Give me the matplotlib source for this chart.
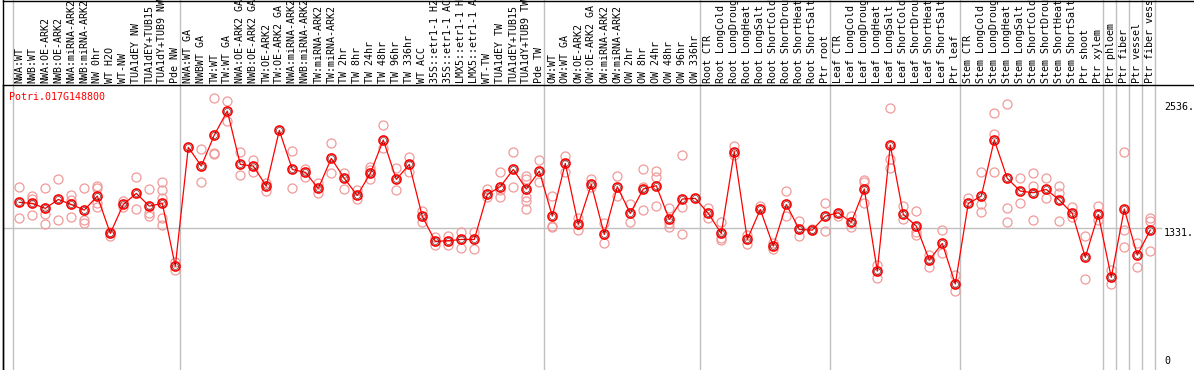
import matplotlib
matplotlib.use("Agg")
import matplotlib.pyplot as plt
from matplotlib.lines import Line2D
import matplotlib.transforms as mtransforms

# sample names, in plot order
samples = [
    "NWA:WT", "NWB:WT", "NWA:OE-ARK2", "NWB:OE-ARK2", "NWA:miRNA-ARK2", "NWB:miRNA-ARK2",
    "NW 0hr", "WT H2O", "WT-NW", "TUA1dEY NW", "TUA1dEY+TUB15", "TUA1dY+TUB9 NW", "Pde NW",
    "NWA:WT GA", "NWBWT GA", "TW:WT", "TW:WT GA", "NWA:OE-ARK2 GA", "NWB:OE-ARK2 GA",
    "TW:OE-ARK2", "TW:OE-ARK2 GA", "NWA:miRNA-ARK2 GA", "NWB:miRNA-ARK2 GA", "TW:miRNA-ARK2",
    "TW:miRNA-ARK2", "TW 2hr", "TW 8hr", "TW 24hr", "TW 48hr", "TW 96hr", "TW 336hr", "WT ACC",
    "35S::etr1-1 H2O", "35S::etr1-1 ACC", "LMX5::etr1-1 H2O", "LMX5::etr1-1 ACC", "WT-TW",
    "TUA1dEY TW", "TUA1dEY+TUB15", "TUA1dY+TUB9 TW", "Pde TW",
    "OW:WT", "OW:WT GA", "OW:OE-ARK2", "OW:OE-ARK2 GA", "OW:miRNA-ARK2", "OW:miRNA-ARK2",
    "OW 2hr", "OW 8hr", "OW 24hr", "OW 48hr", "OW 96hr", "OW 336hr",
    "Root CTR", "Root LongCold", "Root LongDrought", "Root LongHeat", "Root LongSalt",
    "Root ShortCold", "Root ShortDrought", "Root ShortHeat", "Root ShortSalt", "Ptr root",
    "Leaf CTR", "Leaf LongCold", "Leaf LongDrought", "Leaf LongHeat", "Leaf LongSalt",
    "Leaf ShortCold", "Leaf ShortDrought", "Leaf ShortHeat", "Leaf ShortSalt", "Ptr leaf",
    "Stem CTR", "Stem LongCold", "Stem LongDrought", "Stem LongHeat", "Stem LongSalt",
    "Stem ShortCold", "Stem ShortDrought", "Stem ShortHeat", "Stem ShortSalt",
    "Ptr shoot", "Ptr xylem", "Ptr phloem", "Ptr fiber", "Ptr vessel", "Ptr fiber vessel",
]

# mean expression per sample
means = [
    1574, 1564, 1516, 1602, 1554, 1500, 1634, 1276, 1554, 1660, 1538, 1564, 962,
    2102, 1922, 2220, 2450, 1938, 1922, 1730, 2265, 1890, 1862, 1708, 1996, 1804,
    1641, 1852, 2172, 1794, 1938, 1439, 1199, 1206, 1218, 1218, 1650, 1724, 1890,
    1702, 1874,
    1442, 1948, 1362, 1746, 1266, 1724, 1468, 1702, 1734, 1410, 1606, 1612,
    1468, 1276, 2060, 1218, 1506, 1154, 1554, 1314, 1308, 1442,
    1474, 1382, 1702, 914, 2124, 1458, 1346, 1020, 1180, 790,
    1564, 1634, 2172, 1804, 1682, 1666, 1698, 1596, 1468, 1046, 1458,
    854, 1510, 1068, 1308,
]

# individual replicates per sample
replicates = [
    [1724, 1420], [1634, 1602, 1449], [1708, 1462, 1363], [1798, 1404],
    [1644, 1596, 1430], [1708, 1404, 1378], [1730, 1708, 1564, 1532], [1292, 1250],
    [1586, 1532], [1814, 1506], [1698, 1474, 1442], [1769, 1692, 1612, 1420, 1356],
    [1004, 924],
    [], [2082, 1769], [2572, 2050, 2034], [2543, 2351], [2054, 1833], [1980, 1862],
    [1762, 1686], [], [2066, 1708], [1897, 1814], [1762, 1666], [2140, 1852],
    [1858, 1698], [1692, 1609], [1910, 1884, 1794], [2316, 2092], [1900, 1692],
    [2009, 1868], [1494, 1382], [1244, 1164], [1250, 1164], [1292, 1132],
    [1292, 1122], [1698, 1622], [1862, 1692, 1622], [2054, 1724],
    [1826, 1794, 1622, 1590, 1506], [1980, 1766],
    [1638, 1346, 1334], [2018, 1868], [1420, 1308], [1794, 1724], [1372, 1180],
    [1826, 1634], [1554, 1382], [1890, 1724, 1500], [1874, 1814, 1538],
    [1516, 1372, 1334], [2025, 1526, 1270], [],
    [1516, 1420], [1388, 1228, 1212], [2114, 2028], [1260, 1170], [1538],
    [1180, 1122], [1682, 1442], [1394, 1250], [1314], [1564, 1298],
    [1442], [1442, 1334], [1788, 1772, 1570], [972, 844], [2476, 1986, 1900],
    [1538, 1410], [1490, 1292, 1260], [1068, 956], [1308, 1084], [876, 722],
    [1612], [1865, 1558, 1481], [2428, 2226, 1865], [2518, 1516, 1382],
    [1804, 1564], [1858, 1730, 1404], [1804, 1612], [1730, 1666, 1394],
    [1532, 1436], [1250, 834], [1538, 1404],
    [924, 786], [2060, 1308, 1142], [1180, 956], [1426, 1398, 1106],
]

# last sample of each group (grey separators after them)
group_ends = [12, 40, 52, 62, 72, 83, 84, 85, 86, 87]
axis_ticks = [2536, 1331, 0]
axis_labels = ["2536.", "1331.", "0"]
gene = "Potri.017G148800"

W, H = 1194, 370
plt.rcParams["font.family"] = ["DejaVu Sans Mono"]
fs = 7.2

fig = plt.figure(figsize=(W / 100, H / 100), dpi=100)
ax_top = 85
ax = fig.add_axes([3 / W, 0, 1153 / W, (H - ax_top) / H])
ax.set_xlim(-1.254, 87.44)
ax.set_ylim(-34.5, 2700)
for s in ["top", "right", "bottom"]:
    ax.spines[s].set_visible(False)
ax.spines["left"].set_color("black")
ax.spines["left"].set_linewidth(1.0)
ax.set_xticks([])
ax.set_yticks([])

ext = 1 + ax_top / (H - ax_top)
grey = "#c0c0c0"
ax.axvline(-0.5, 0, ext, color=grey, lw=1, clip_on=False, zorder=0)
for g in group_ends:
    ax.axvline(g + 0.385, 0, ext, color=grey, lw=1, clip_on=False, zorder=0)
ax.axvline(-1.254, 0, ext, color="black", lw=1, clip_on=False, zorder=1)
ax.axhline(1331, 0, 1.004, color=grey, lw=1, clip_on=False, zorder=0)

# replicates
for i, reps in enumerate(replicates):
    if reps:
        ax.plot([i] * len(reps), reps, linestyle="none", marker="o", ms=6.5,
                mfc="none", mec="#f09a9a", mew=0.9, zorder=2)

# means
x = list(range(len(means)))
ax.plot(x, means, color="#ff0000", lw=0.9, zorder=3)
ax.plot(x, means, linestyle="none", marker="o", ms=6.5, mfc="none",
        mec="#ff0000", mew=1.2, zorder=4)
ax.plot(x, means, linestyle="none", marker="o", ms=4.3, mfc="none",
        mec="#400000", mew=0.5, alpha=0.8, zorder=4)

# sample labels above the plot
trans = mtransforms.blended_transform_factory(ax.transData, ax.transAxes)
for i, s in enumerate(samples):
    ax.text(i, 1 + 2 / (H - ax_top), s, transform=trans, rotation=90,
            ha="center", va="bottom", fontsize=fs, color="black", clip_on=False)

# right-hand scale
trans_r = mtransforms.blended_transform_factory(ax.transAxes, ax.transData)
for v, lab in zip(axis_ticks, axis_labels):
    ax.text(1 + 8 / 1153, v, lab, transform=trans_r, ha="left",
            va="bottom" if v == 0 else "top", fontsize=fs, color="black")

fig.text(9 / W, 1 - 97 / H, gene, color="#ff0000", fontsize=fs, ha="left", va="center")

fig.add_artist(Line2D([3 / W, 1], [1 - ax_top / H] * 2, color="black", lw=1))
fig.add_artist(Line2D([3 / W, 1], [1 - 0.5 / H] * 2, color="black", lw=1))

fig.savefig("out.png", dpi=100)
